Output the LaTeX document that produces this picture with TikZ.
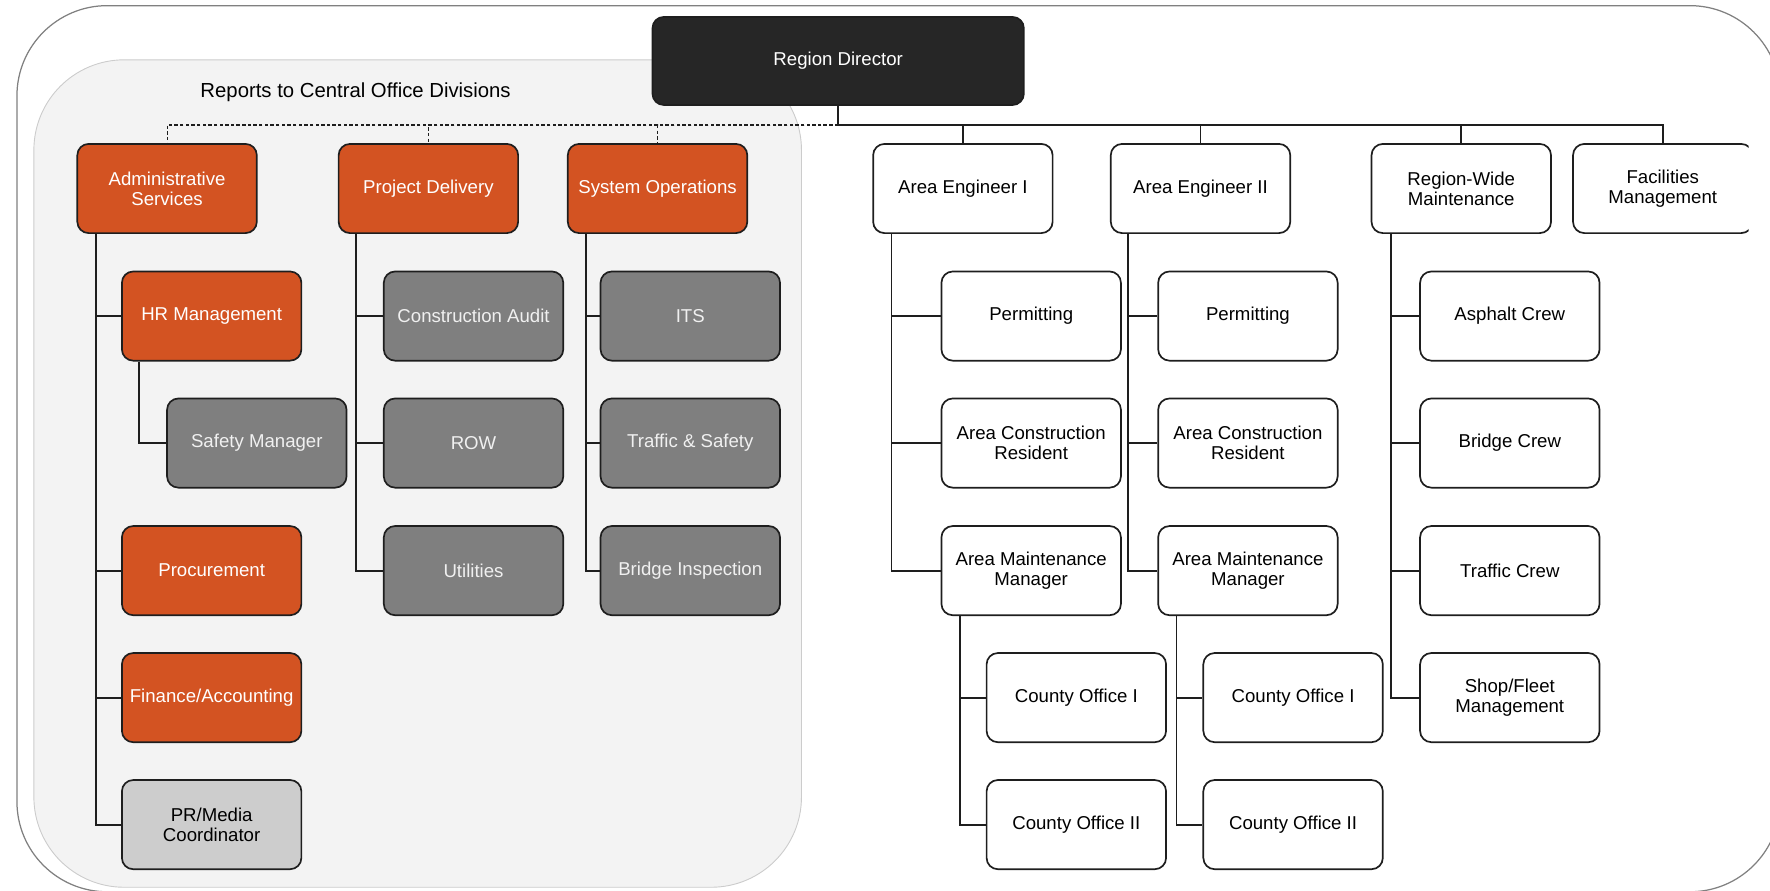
\documentclass[tikz,border=0pt]{standalone}
\usepackage{fontspec}
\setmainfont{Liberation Sans}
\usetikzlibrary{calc}
\definecolor{orng}{HTML}{D35322}
\definecolor{gry}{HTML}{7F7F7F}
\definecolor{lgry}{HTML}{CDCDCD}
\definecolor{drk}{HTML}{262626}
\definecolor{panel}{HTML}{F3F3F3}
\definecolor{edge}{HTML}{1E1E1E}
\begin{document}
\begin{tikzpicture}[x=1pt,y=-1pt,
  box/.style={rectangle, rounded corners=10pt, draw=edge, line width=1.5pt,
    minimum width=159pt, minimum height=79pt, align=center, inner sep=2pt,
    font=\fontsize{16.5}{17.5}\selectfont},
  obox/.style={box, fill=orng, text=white},
  gbox/.style={box, fill=gry, text=white!94!black},
  wbox/.style={box, fill=white, text=black},
  lbox/.style={box, fill=lgry, text=black},
  dbox/.style={box, fill=drk, text=white, minimum width=329pt, minimum height=78pt},
  conn/.style={draw=edge, line width=1.6pt},
  dconn/.style={draw=edge, line width=1pt, dash pattern=on 3pt off 2pt},
]
\useasboundingbox (0,0) rectangle (1568,789);
% outer frame
\draw[draw=gray, line width=1.1pt, rounded corners=80pt] (15,5) rectangle (1577,790);
% left panel
\draw[draw=gray!40, fill=panel, line width=0.8pt, rounded corners=80pt] (30,53) rectangle (710,786);
\node[font=\fontsize{18}{20}\selectfont] (rep) at (315,82) {Reports to Central Office Divisions};

% top
\node[dbox] (dir) at (742.5,54) {Region Director};

\node[obox] (adm) at (148,167) {Administrative\\Services};
\node[obox] (pd)  at (379.5,167) {Project Delivery};
\node[obox] (so)  at (582.5,167) {System Operations};
\node[wbox] (ae1) at (853,167) {Area Engineer I};
\node[wbox] (ae2) at (1063.5,167) {Area Engineer II};
\node[wbox] (rwm) at (1294.5,167) {Region-Wide\\Maintenance};
\begin{scope}
\clip (0,0) rectangle (1549,789);
\node[wbox] (fac) at (1473,167) {Facilities\\Management};
\end{scope}

% admin column
\node[obox] (hr)  at (187.5,280) {HR Management};
\node[gbox] (saf) at (227.5,392.5) {Safety Manager};
\node[obox] (pro) at (187.5,505.5) {Procurement};
\node[obox] (fin) at (187.5,618) {Finance/Accounting};
\node[lbox] (pr)  at (187.5,730.5) {PR/Media\\Coordinator};

% project delivery column
\node[gbox] (ca)  at (419.5,280) {Construction Audit};
\node[gbox] (row) at (419.5,392.5) {ROW};
\node[gbox] (ut)  at (419.5,505.5) {Utilities};

% system operations column
\node[gbox] (its) at (611.5,280) {ITS};
\node[gbox] (ts)  at (611.5,392.5) {Traffic \& Safety};
\node[gbox] (bi)  at (611.5,505.5) {Bridge Inspection};

% area engineer I
\node[wbox] (p1)  at (913.5,280) {Permitting};
\node[wbox] (ac1) at (913.5,392.5) {Area Construction\\Resident};
\node[wbox] (am1) at (913.5,505.5) {Area Maintenance\\Manager};
\node[wbox] (c11) at (953.5,618) {County Office I};
\node[wbox] (c12) at (953.5,730.5) {County Office II};

% area engineer II
\node[wbox] (p2)  at (1105.5,280) {Permitting};
\node[wbox] (ac2) at (1105.5,392.5) {Area Construction\\Resident};
\node[wbox] (am2) at (1105.5,505.5) {Area Maintenance\\Manager};
\node[wbox] (c21) at (1145.5,618) {County Office I};
\node[wbox] (c22) at (1145.5,730.5) {County Office II};

% region-wide maintenance
\node[wbox] (asp) at (1337.5,280) {Asphalt Crew};
\node[wbox] (brc) at (1337.5,392.5) {Bridge Crew};
\node[wbox] (trc) at (1337.5,505.5) {Traffic Crew};
\node[wbox] (shp) at (1337.5,618) {Shop/Fleet\\Management};

% bus from director
\draw[conn] (dir.south) -- ++(0,17) coordinate (bus);
\draw[conn] (bus) -| (ae1.north);
\draw[conn] (bus) -| (ae2.north);
\draw[conn] (bus) -| (rwm.north);
\draw[conn] (bus) -| (fac.north);
\draw[dconn] (bus) -| (adm.north);
\draw[dconn] (bus) -| (pd.north);
\draw[dconn] (bus) -| (so.north);

% column connectors
\foreach \c in {hr,pro,fin,pr} \draw[conn] ($(adm.south west)+(17,0)$) |- (\c.west);
\draw[conn] ($(hr.south west)+(16,0)$) |- (saf.west);
\foreach \c in {ca,row,ut} \draw[conn] ($(pd.south west)+(16,0)$) |- (\c.west);
\foreach \c in {its,ts,bi} \draw[conn] ($(so.south west)+(17,0)$) |- (\c.west);
\foreach \c in {p1,ac1,am1} \draw[conn] ($(ae1.south west)+(17,0)$) |- (\c.west);
\foreach \c in {c11,c12} \draw[conn] ($(am1.south west)+(17,0)$) |- (\c.west);
\foreach \c in {p2,ac2,am2} \draw[conn] ($(ae2.south west)+(16,0)$) |- (\c.west);
\foreach \c in {c21,c22} \draw[conn] ($(am2.south west)+(17,0)$) |- (\c.west);
\foreach \c in {asp,brc,trc,shp} \draw[conn] ($(rwm.south west)+(18,0)$) |- (\c.west);
\end{tikzpicture}
\end{document}
